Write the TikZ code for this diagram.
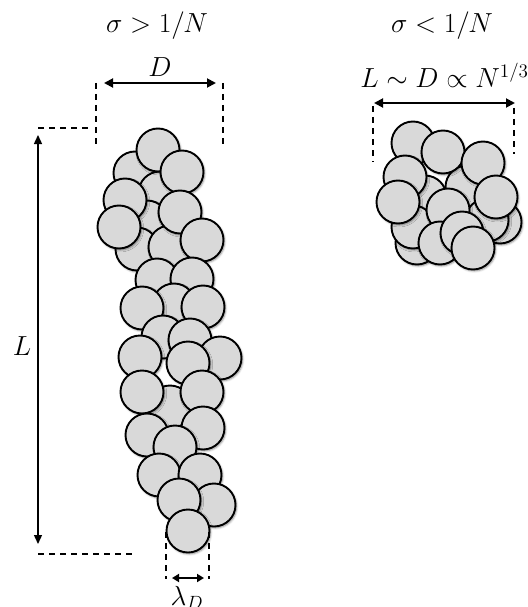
\documentclass[tikz,border=0pt]{standalone}
\usetikzlibrary{arrows.meta,shadows.blur}
\begin{document}
\begin{tikzpicture}[x=1pt,y=-1pt,
  ball/.style={circle,draw=black,line width=1.9pt,fill=ballgray,minimum size=43pt,inner sep=0pt,
    blur shadow={shadow xshift=1.2pt,shadow yshift=-1.5pt,shadow blur radius=2pt,shadow opacity=45}},
  lbl/.style={font=\fontsize{20.74}{25}\selectfont,inner sep=0pt,scale=1.33},
  dimline/.style={line width=1.9pt,{Triangle[length=9pt,width=9pt]}-{Triangle[length=9pt,width=9pt]}},
  guide/.style={line width=2.2pt,dash pattern=on 6pt off 5pt}]
\definecolor{ballgray}{RGB}{217,217,217}
\useasboundingbox (0,0) rectangle (527,607);
% titles
\node[lbl,anchor=base] (t1) at (157,33) {$\sigma>1/N$};
\node[lbl,anchor=base] (t2) at (442,33) {$\sigma<1/N$};
% left cluster
\foreach \x/\y [count=\i] in {135/173,160/193,158/150,182/172,147/222,125/200,137/249,170/247,
  119/227,180/212,202/240,157/280,192/279,174/305,142/308,203/307,163/337,190/340,140/357,
  220/358,188/363,170/407,142/392,202/392,203/428,147/435,175/447,159/475,200/475,214/505,
  179/500,188/531}
  \node[ball] (l\i) at (\x,\y) {};
% right cluster
\foreach \x/\y [count=\i] in {413/143,467/187,425/197,443/152,483/163,405/177,417/243,413/227,
  500/222,487/220,398/202,448/210,496/197,440/243,462/233,473/248}
  \node[ball] (r\i) at (\x,\y) {};
% D dimension
\coordinate (dl) at (96,83);
\coordinate (dr) at (223,83);
\coordinate (dlb) at (96,146);
\coordinate (drb) at (223,146);
\draw[guide] (dl) -- (dlb);
\draw[guide] (dr) -- (drb);
\coordinate (da) at (104,83);
\coordinate (db) at (216,83);
\draw[dimline] (da) -- (db);
\node[lbl,anchor=base] (dlab) at (160,77) {$D$};
% L dimension
\coordinate (lt) at (38,135);
\coordinate (lb) at (38,544);
\draw[line width=1.4pt,{Triangle[length=9pt,width=8pt]}-{Triangle[length=9pt,width=8pt]}] (lt) -- (lb);
\coordinate (ht1) at (38,128);
\coordinate (ht2) at (90,128);
\draw[guide] (ht1) -- (ht2);
\coordinate (hb1) at (38,554);
\coordinate (hb2) at (134,554);
\draw[guide] (hb1) -- (hb2);
\node[lbl] (llab) at (22,346) {$L$};
% lambda_D
\coordinate (ql) at (166,532);
\coordinate (qlb) at (166,579);
\coordinate (qr) at (209,532);
\coordinate (qrb) at (209,579);
\draw[guide] (ql) -- (qlb);
\draw[guide] (qr) -- (qrb);
\coordinate (qa) at (172,578);
\coordinate (qb) at (204,578);
\draw[line width=1.9pt,{Triangle[length=7pt,width=8pt]}-{Triangle[length=7pt,width=8pt]}] (qa) -- (qb);
\node[lbl,anchor=base] (qlab) at (187,605) {$\lambda_D$};
% right dimension
\node[lbl,anchor=base west] (rlab) at (360,88) {$L\sim D\propto N^{1/3}$};
\coordinate (ra) at (374,103);
\coordinate (rb) at (515,103);
\draw[dimline] (ra) -- (rb);
\coordinate (rl1) at (373,106);
\coordinate (rl2) at (373,162);
\coordinate (rr1) at (514,108);
\coordinate (rr2) at (514,154);
\draw[guide] (rl1) -- (rl2);
\draw[guide] (rr1) -- (rr2);
\end{tikzpicture}
\end{document}
